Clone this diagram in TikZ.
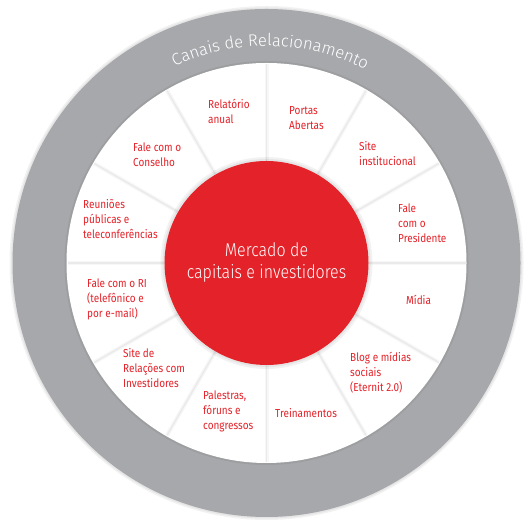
\documentclass[tikz,border=0pt]{standalone}
\usepackage{fontspec}
\setmainfont{Fira Sans}[FakeStretch=0.86]
\newfontfamily\corefam{Fira Sans Light}[FakeStretch=0.86]
\newfontfamily\titlefam{Fira Sans Light}
\usetikzlibrary{decorations.text}
\definecolor{ringgray}{HTML}{A7A8AB}
\definecolor{eternitred}{HTML}{E42229}
\definecolor{divgray}{HTML}{EAEAEA}
\newcommand{\lblrows}[1]{\begin{tabular}[t]{@{}l@{}}#1\end{tabular}}
\newcommand{\titlefont}{\titlefam\fontsize{16.6}{17}\selectfont}
\begin{document}
\begin{tikzpicture}[x=1pt,y=1pt,
  lbl/.style={anchor=base west, inner sep=0pt, text=eternitred,
    font=\fontsize{11.6}{14.7}\selectfont},
  divider/.style={draw=divgray, line width=1.4pt},
  dividerglow/.style={draw=black!3, line width=4pt},
  core/.style={circle, fill=eternitred, minimum size=204pt, inner sep=0pt,
    text=white, align=center, font=\corefam\fontsize{18.6}{22}\selectfont}]
\useasboundingbox (0,0) rectangle (529,529);
\fill[white] (0,0) rectangle (529,529);
\coordinate (C) at (266.5,266);
% outer ring with soft shadow
\fill[black, opacity=0.05] (C) circle (257);
\fill[black, opacity=0.05] (C) circle (255.5);
\fill[ringgray] (C) circle (254);
% white disk
\fill[black, opacity=0.06] (C) circle (202);
\fill[white] (C) circle (200);
% dividers
\foreach \a in {0,30,...,330}{
  \draw[dividerglow] ([shift={(\a:102)}]C) -- ([shift={(\a:199)}]C);
  \draw[divider] ([shift={(\a:102)}]C) -- ([shift={(\a:199)}]C);
}
% shadow of core
\fill[black, opacity=0.05] (C) circle (106);
\fill[black, opacity=0.05] (C) circle (104);
\node[core] (core) at (C) {Mercado de\\capitais e investidores};
% title along ring
\path[decorate, decoration={text along path, text align=center,
  text={|\titlefont\color{white}|Canais de Relacionamento}}]
  ([shift={(129:217)}]C) arc[start angle=129, end angle=49, radius=217];
% labels
\node[lbl] (relatorio) at (208,420) {\lblrows{Relatório\\anual}};
\node[lbl] (portas) at (289,414) {\lblrows{Portas\\Abertas}};
\node[lbl] (siteinst) at (359,378) {\lblrows{Site\\institucional}};
\node[lbl] (presidente) at (398,316) {\lblrows{Fale\\com o\\Presidente}};
\node[lbl] (midia) at (406,224) {\lblrows{Mídia}};
\node[lbl] (blog) at (350,167) {\lblrows{Blog e mídias\\sociais\\(Eternit 2.0)}};
\node[lbl] (treinamentos) at (275,111) {\lblrows{Treinamentos}};
\node[lbl] (palestras) at (203,129) {\lblrows{Palestras,\\fóruns e\\congressos}};
\node[lbl] (siteri) at (123,171) {\lblrows{Site de\\Relações com\\Investidores}};
\node[lbl] (faleri) at (87,241) {\lblrows{Fale com o RI\\(telefônico e\\por e-mail)}};
\node[lbl] (reunioes) at (83,320) {\lblrows{Reuniões\\públicas e\\teleconferências}};
\node[lbl] (conselho) at (133,377) {\lblrows{Fale com o\\Conselho}};
\end{tikzpicture}
\end{document}
